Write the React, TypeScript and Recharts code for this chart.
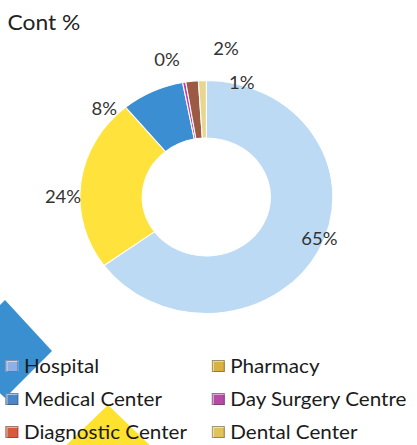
import React from 'react';
import { PieChart, Pie, Cell, Legend } from 'recharts';

const CATEGORIES = ['Hospital', 'Pharmacy', 'Medical Center', 'Day Surgery Centre', 'Diagnostic Center', 'Dental Center'];
const SHARES = [65, 24, 8, 0.4, 1.6, 1];
const SLICE_COLORS = ['#bcdaf4', '#ffe33c', '#3b8ed2', '#c23ea2', '#9c5a44', '#e6d68e'];
const ICON_COLORS = ['#8fb0e6', '#d9b13e', '#4a86c8', '#b64aa4', '#d85a3c', '#e2c25a'];

// label placement (Excel "best fit" look): radius and angle nudge per slice
const LABEL_RADIUS = [112, 132, 129, 142, 150, 119];
const LABEL_SHIFT = [5.4, 7, 21.6, 4.7, -13.4, -17.7];

const data = CATEGORIES.map((name, i) => ({ name, value: SHARES[i] }));

const FONT = 'Lato, "Open Sans", sans-serif';
const RAD = Math.PI / 180;
// the source picture is stretched horizontally a little
const STRETCH = 1.086;

const renderLabel = (props: any) => {
  const { cx, cy, midAngle, percent, index } = props;
  const a = (midAngle + LABEL_SHIFT[index]) * RAD;
  const r = LABEL_RADIUS[index];
  const x = cx + r * Math.cos(a);
  const y = cy - r * Math.sin(a);
  return (
    <text x={x} y={y} textAnchor="middle" dominantBaseline="central" fill="#333" fontSize={17} fontFamily={FONT}>
      {`${Math.round(percent * 100)}%`}
    </text>
  );
};

const renderLegend = () => (
  <div style={{ display: 'grid', gridTemplateColumns: '190px 190px', fontFamily: FONT }}>
    {data.map((d, i) => (
      <div key={d.name} style={{ display: 'flex', alignItems: 'center', height: 33 }}>
        <span
          style={{
            width: 12,
            height: 12,
            marginRight: 5,
            background: ICON_COLORS[i],
            boxShadow: 'inset 0 0 0 1px rgba(60,60,60,0.45), inset 2px 2px 0 rgba(255,255,255,0.5)',
          }}
        />
        <span style={{ fontSize: 19, color: '#1b1b1b' }}>{d.name}</span>
      </div>
    ))}
  </div>
);

export default function App() {
  return (
    <div style={{ position: 'absolute', left: 0, top: 0, width: 417, height: 445, background: '#fff', overflow: 'hidden' }}>
      <svg width={417} height={445} style={{ position: 'absolute', left: 0, top: 0 }}>
        <polygon points="-45,350 5,300 52,351 5,398" fill="#3a8fd0" />
        <polygon points="108,405 160,455 108,505 56,455" fill="#ffe12f" />
      </svg>
      <div
        style={{
          position: 'absolute',
          left: 0,
          top: 0,
          width: 384,
          height: 445,
          transform: `scaleX(${STRETCH})`,
          transformOrigin: '0 0',
        }}
      >
        <div style={{ position: 'absolute', left: 7, top: 9, fontFamily: FONT, fontSize: 21, color: '#222' }}>Cont %</div>
        <PieChart width={384} height={445} margin={{ top: 0, right: 0, bottom: 0, left: 0 }}>
          <Pie
            data={data}
            dataKey="value"
            nameKey="name"
            cx={190}
            cy={197}
            innerRadius={59}
            outerRadius={116.5}
            startAngle={90}
            endAngle={-270}
            stroke="#ffffff"
            strokeWidth={1}
            label={renderLabel}
            labelLine={false}
            isAnimationActive={false}
          >
            {data.map((d, i) => (
              <Cell key={d.name} fill={SLICE_COLORS[i]} />
            ))}
          </Pie>
          <Legend
            content={renderLegend}
            wrapperStyle={{ position: 'absolute', left: 5, top: 349, width: 380, bottom: 'auto' }}
          />
        </PieChart>
      </div>
    </div>
  );
}
